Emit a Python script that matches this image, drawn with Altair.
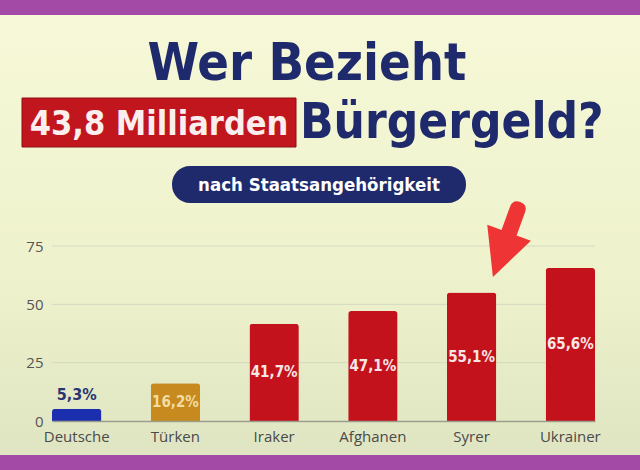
import altair as alt
import pandas as pd

# ---- data ----
categories = ["Deutsche", "Türken", "Iraker", "Afghanen", "Syrer", "Ukrainer"]
values = [5.3, 16.2, 41.7, 47.1, 55.1, 65.6]
labels = ["5,3%", "16,2%", "41,7%", "47,1%", "55,1%", "65,6%"]
bar_colors = ["#1b2fae", "#c68a1e", "#c3121b", "#c3121b", "#c3121b", "#c3121b"]
grid_values = [25, 50, 75]
y_ticks = [0, 25, 50, 75]
arrow_category = "Syrer"
arrow_value = 77.8

title1 = "Wer Bezieht"
title2_box = "43,8 Milliarden"
title2_rest = "Bürgergeld?"
subtitle = "nach Staatsangehörigkeit"

df = pd.DataFrame({"category": categories, "value": values, "label": labels})
one = pd.DataFrame({"k": [0]})

W, H = 543, 175
PAD = {"left": 52, "top": 246, "right": 45, "bottom": 49}
NAVY = "#1f2a6c"
COND = "DejaVu Sans Condensed, DejaVu Sans, sans-serif"
AXF = "Open Sans, DejaVu Sans, sans-serif"

xscale = alt.Scale(domain=categories, paddingInner=0.5, paddingOuter=0.0)
yscale = alt.Scale(domain=[0, 75], nice=False)

bg = alt.Chart(one).mark_rect(
    fill=alt.LinearGradient(
        gradient="linear", x1=0, x2=0, y1=0, y2=1,
        stops=[alt.GradientStop(color="#f6f8d7", offset=0),
               alt.GradientStop(color="#eef2cc", offset=0.6),
               alt.GradientStop(color="#dfe5c2", offset=1)]),
).encode(x=alt.value(-PAD["left"]), x2=alt.value(W + PAD["right"]),
         y=alt.value(-PAD["top"] + 15), y2=alt.value(H + PAD["bottom"] - 15))

grid = alt.Chart(pd.DataFrame({"v": grid_values})).mark_rule(
    color="#d5d8c2", strokeWidth=1
).encode(y=alt.Y("v:Q", scale=yscale,
                 axis=alt.Axis(title=None, ticks=False, labelPadding=9, values=y_ticks,
                               labelFont=AXF, labelFontSize=15, labelColor="#555555",
                               domain=False, grid=False, zindex=1)))

bars = alt.Chart(df).mark_bar(
    cornerRadiusTopLeft=3, cornerRadiusTopRight=3
).encode(
    x=alt.X("category:N", scale=xscale, sort=categories,
            axis=alt.Axis(title=None, ticks=False, labelPadding=8, labelAngle=0,
                          labelFont=AXF, labelFontSize=15, labelColor="#4a4a4a",
                          domainColor="#9c9e8c", domainWidth=1.5, grid=False, zindex=1)),
    y=alt.Y("value:Q", scale=yscale),
    color=alt.Color("category:N", scale=alt.Scale(domain=categories, range=bar_colors),
                    legend=None),
)

inside = alt.Chart(df).transform_filter("datum.value >= 10").transform_calculate(
    mid="datum.value / 2"
).mark_text(font=COND, fontWeight="bold", fontSize=15, baseline="middle").encode(
    x=alt.X("category:N", scale=xscale, sort=categories),
    y=alt.Y("mid:Q", scale=yscale),
    text="label:N",
    color=alt.condition("datum.category == 'Türken'", alt.value("#f2dca4"), alt.value("#f8e6e6")),
)

outside = alt.Chart(df).transform_filter("datum.value < 10").mark_text(
    font=COND, fontWeight="bold", fontSize=16, baseline="bottom", dy=-6, color="#2a3572"
).encode(
    x=alt.X("category:N", scale=xscale, sort=categories),
    y=alt.Y("value:Q", scale=yscale),
    text="label:N",
)

arrow_path = ("M-0.2,-0.8 Q-0.2,-1 0,-1 Q0.2,-1 0.2,-0.8 L0.2,-0.18 L0.58,-0.18 "
              "L0,1 L-0.58,-0.18 L-0.2,-0.18 Z")
arrow = alt.Chart(pd.DataFrame({"category": [arrow_category], "value": [arrow_value]})).mark_point(
    shape=arrow_path, filled=True, fill="#ee3434", strokeWidth=0, opacity=1,
    size=6400, angle=20, xOffset=35
).encode(
    x=alt.X("category:N", scale=xscale, sort=categories),
    y=alt.Y("value:Q", scale=yscale),
)

t1 = alt.Chart(one).mark_text(
    text=title1, font=COND, fontWeight="bold", fontSize=52, color=NAVY,
    align="center", baseline="alphabetic"
).encode(x=alt.value(255), y=alt.value(-166))

redbox = alt.Chart(one).mark_rect(fill="#c2161e", stroke="#8e0d12", strokeWidth=1).encode(
    x=alt.value(-30), x2=alt.value(244), y=alt.value(-148), y2=alt.value(-99))

t2a = alt.Chart(one).mark_text(
    text=title2_box, font=COND, fontWeight="bold", fontSize=34, color="#fbeeee",
    align="center", baseline="alphabetic"
).encode(x=alt.value(107), y=alt.value(-111))

t2b = alt.Chart(one).mark_text(
    text=title2_rest, font=COND, fontWeight="bold", fontSize=49, color=NAVY,
    align="left", baseline="alphabetic"
).encode(x=alt.value(248), y=alt.value(-108))

pill = alt.Chart(one).mark_rect(fill=NAVY, cornerRadius=18).encode(
    x=alt.value(120), x2=alt.value(414), y=alt.value(-80), y2=alt.value(-43))

t3 = alt.Chart(one).mark_text(
    text=subtitle, font=COND, fontWeight="bold", fontSize=18.5, color="#ffffff",
    align="center", baseline="middle"
).encode(x=alt.value(267), y=alt.value(-61))

chart = alt.layer(
    bg, grid, bars, inside, outside, arrow, t1, redbox, t2a, t2b, pill, t3
).properties(
    width=W, height=H, padding=PAD,
    autosize=alt.AutoSizeParams(type="none"),
    background="#a24aa6",
).configure_view(stroke=None)

chart.save("out.html", embed_options={"renderer": "svg", "actions": False})
